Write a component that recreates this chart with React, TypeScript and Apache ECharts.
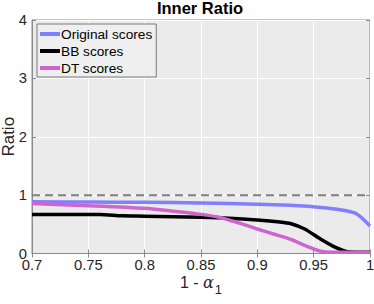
import React, { useEffect, useRef } from "react";
import * as echarts from "echarts";

const seriesNames = ["Original scores", "BB scores", "DT scores"];
const seriesColors = ["#8080ff", "#000000", "#cc66cc"];

const originalScores: [number, number][] = [
  [0.7, 0.885], [0.75, 0.882], [0.8, 0.877], [0.85, 0.865], [0.9, 0.845],
  [0.93, 0.825], [0.95, 0.8], [0.96, 0.785], [0.975, 0.745], [0.988, 0.68], [1.0, 0.47],
];
const bbScores: [number, number][] = [
  [0.7, 0.67], [0.76, 0.67], [0.78, 0.645], [0.8, 0.64], [0.85, 0.62], [0.875, 0.605],
  [0.9, 0.575], [0.92, 0.54], [0.93, 0.51], [0.942, 0.42], [0.956, 0.25], [0.97, 0.1],
  [0.98, 0.03], [1.0, 0.02],
];
const dtScores: [number, number][] = [
  [0.7, 0.855], [0.75, 0.82], [0.8, 0.775], [0.83, 0.715], [0.85, 0.67], [0.866, 0.62],
  [0.884, 0.52], [0.9, 0.42], [0.915, 0.33], [0.93, 0.24], [0.942, 0.14], [0.956, 0.04],
  [0.965, 0.02], [1.0, 0.02],
];
const referenceLine: [number, number][] = [[0.7, 1], [1.0, 1]];

const xTicks = { min: 0.7, max: 1.0, interval: 0.05 };
const yTicks = { min: 0, max: 4, interval: 1 };

const FONT = "Liberation Sans, Arial, Helvetica, sans-serif";

export default function App() {
  const ref = useRef<HTMLDivElement>(null);
  useEffect(() => {
    if (!ref.current) return;
    const chart = echarts.init(ref.current, undefined, { renderer: "svg" });
    const grid = { left: 32, right: 4, top: 20, bottom: 50.5 };
    const lineSeries = [originalScores, bbScores, dtScores].map((d, i) => ({
      name: seriesNames[i],
      type: "line",
      data: d,
      showSymbol: false,
      symbol: "none",
      smooth: 0.25,
      lineStyle: { color: seriesColors[i], width: 3.5 },
      itemStyle: { color: seriesColors[i] },
      z: 3 + i,
    }));
    chart.setOption({
      animation: false,
      backgroundColor: "#ffffff",
      title: {
        text: "Inner Ratio",
        left: 200,
        textAlign: "center",
        top: -1,
        padding: 0,
        textStyle: { fontFamily: FONT, fontSize: 16.5, fontWeight: "bold", color: "#000" },
      },
      grid: {
        ...grid,
        show: true,
        containLabel: false,
        outerBoundsMode: "none",
        backgroundColor: "#ebebeb",
        borderColor: "#8a8a8a",
        borderWidth: 1,
      },
      legend: {
        orient: "vertical",
        left: 37,
        top: 24,
        padding: [3, 4, 2, 3],
        itemGap: 3,
        itemWidth: 20,
        itemHeight: 4,
        icon: "rect",
        backgroundColor: "#efefef",
        borderColor: "#7a7a7a",
        borderWidth: 1,
        borderRadius: 0,
        data: seriesNames,
        textStyle: { fontFamily: FONT, fontSize: 13.7, color: "#000", padding: [0, 0, 0, -4] },
      },
      xAxis: [
        {
          type: "value",
          ...xTicks,
          name: "1 - {a|α}{s|1}",
          nameLocation: "middle",
          nameMoveOverlap: false,
          nameGap: 15,
          nameTextStyle: {
            fontFamily: FONT,
            fontSize: 16,
            color: "#262626",
            verticalAlign: "top",
            rich: {
              a: { fontFamily: "DejaVu Serif, serif", fontStyle: "italic", fontSize: 16, color: "#262626" },
              s: { fontFamily: FONT, fontSize: 13, color: "#262626", padding: [14, 0, 0, 1] },
            },
          },
          axisLine: { show: true, lineStyle: { color: "#8a8a8a" } },
          axisTick: { show: true, inside: true, length: 4, lineStyle: { color: "#8a8a8a" } },
          axisLabel: {
            fontFamily: FONT,
            fontSize: 14.8,
            color: "#262626",
            margin: 4,
            formatter: (v: number) => String(parseFloat(v.toFixed(2))),
          },
          splitLine: { show: true, lineStyle: { color: "#ffffff", width: 1 } },
        },
        {
          type: "value",
          position: "top",
          ...xTicks,
          axisLine: { show: false },
          axisTick: { show: true, inside: true, length: 4, lineStyle: { color: "#8a8a8a" } },
          axisLabel: { show: false },
          splitLine: { show: false },
        },
      ],
      yAxis: [
        {
          type: "value",
          ...yTicks,
          name: "Ratio",
          nameLocation: "middle",
          nameMoveOverlap: false,
          nameGap: 15,
          nameTextStyle: { fontFamily: FONT, fontSize: 17, color: "#262626" },
          axisLine: { show: true, lineStyle: { color: "#8a8a8a" } },
          axisTick: { show: true, inside: true, length: 4, lineStyle: { color: "#8a8a8a" } },
          axisLabel: { fontFamily: FONT, fontSize: 14.8, color: "#262626", margin: 5 },
          splitLine: { show: true, lineStyle: { color: "#ffffff", width: 1 } },
        },
        {
          type: "value",
          position: "right",
          ...yTicks,
          axisLine: { show: false },
          axisTick: { show: true, inside: true, length: 4, lineStyle: { color: "#8a8a8a" } },
          axisLabel: { show: false },
          splitLine: { show: false },
        },
      ],
      series: [
        {
          name: "ref",
          type: "line",
          data: referenceLine,
          symbol: "none",
          showSymbol: false,
          lineStyle: { color: "#808080", width: 2, type: [8, 5] },
          z: 2,
          silent: true,
        },
        ...lineSeries,
      ],
    });
    return () => chart.dispose();
  }, []);
  return <div ref={ref} style={{ width: 374, height: 304, position: "absolute", left: 0, top: 0 }} />;
}
